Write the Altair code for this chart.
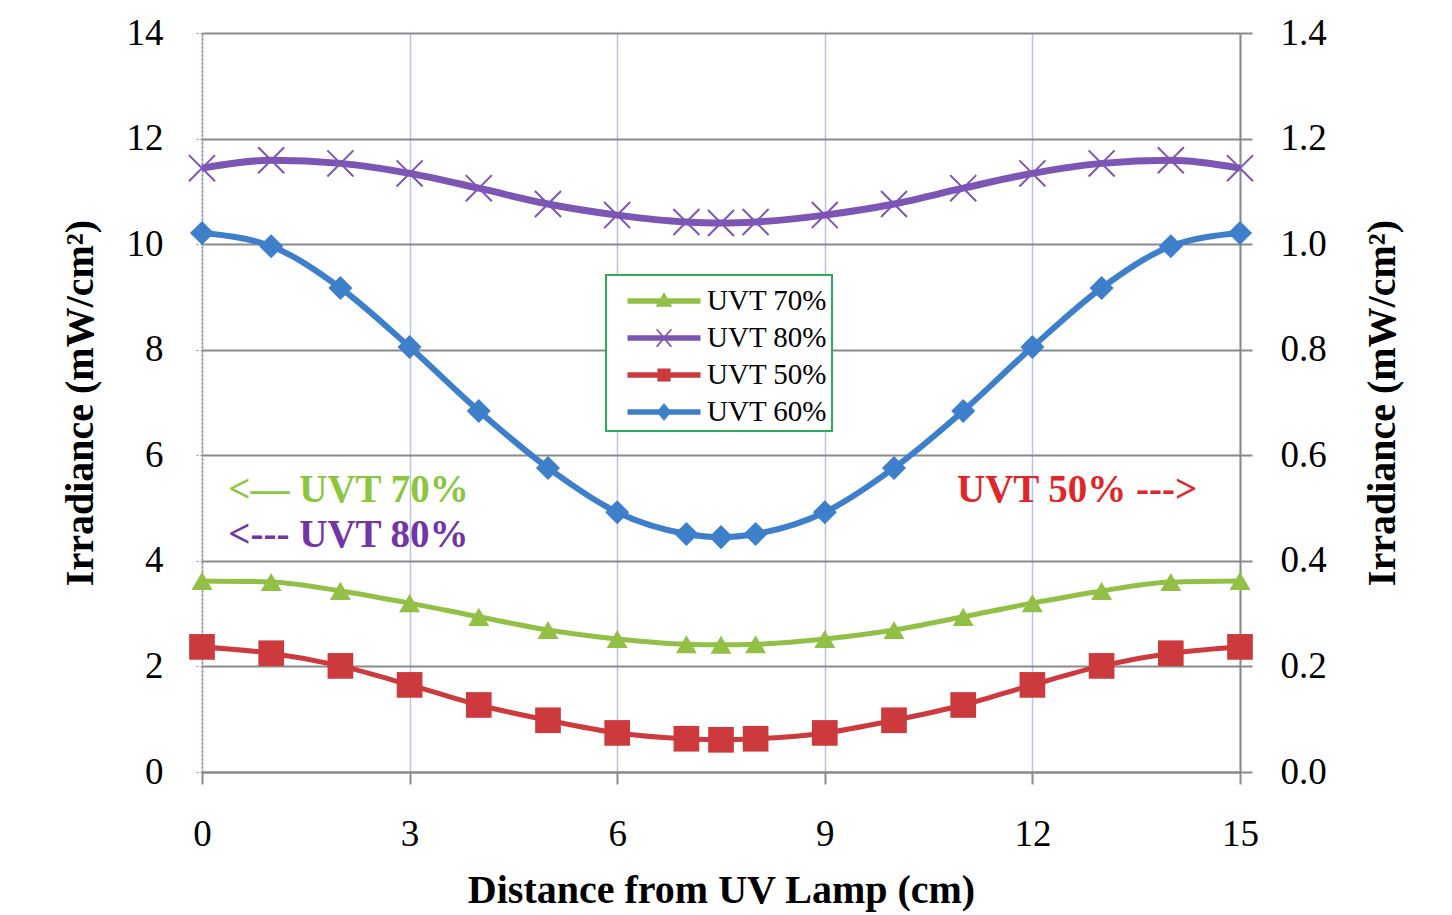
import altair as alt
import pandas as pd

# ---------------- data ----------------
x_cm = [0, 1, 2, 3, 4, 5, 6, 7, 7.5, 8, 9, 10, 11, 12, 13, 14, 15]
# left axis (mW/cm2)
uvt70 = [3.62, 3.60, 3.43, 3.20, 2.94, 2.69, 2.52, 2.42, 2.41, 2.42, 2.52, 2.69, 2.94, 3.20, 3.43, 3.60, 3.62]
uvt80 = [11.44, 11.59, 11.53, 11.34, 11.06, 10.76, 10.55, 10.42, 10.40, 10.42, 10.55, 10.76, 11.06, 11.34, 11.53, 11.59, 11.44]
# right axis (mW/cm2)
uvt50 = [0.237, 0.225, 0.201, 0.165, 0.127, 0.098, 0.074, 0.063, 0.061, 0.063, 0.074, 0.098, 0.127, 0.165, 0.201, 0.225, 0.237]
uvt60 = [1.021, 0.996, 0.917, 0.805, 0.684, 0.576, 0.492, 0.451, 0.445, 0.451, 0.492, 0.576, 0.684, 0.805, 0.917, 0.996, 1.021]

series_names = ["UVT 70%", "UVT 80%", "UVT 50%", "UVT 60%"]
series_colors = ["#92C047", "#7D55B4", "#CD3A3E", "#3E7FCB"]

x_ticks = [0, 3, 6, 9, 12, 15]
left_ticks = [0, 2, 4, 6, 8, 10, 12, 14]
right_ticks = [0.0, 0.2, 0.4, 0.6, 0.8, 1.0, 1.2, 1.4]

# annotations (left-axis ones and right-axis one)
ann_left_text = ["<\u2014 UVT 70%", "<--- UVT 80%"]
ann_left_x = [0.38, 0.38]
ann_left_y = [5.34, 4.49]
ann_left_color = ["#8CC63E", "#7334A4"]
ann_right_text = ["UVT 50% --->"]
ann_right_x = [10.91]
ann_right_y = [0.534]
ann_right_color = ["#E0262B"]

# legend symbols: line + marker as custom paths
LINE = "M-1.66,-0.12H1.66V0.12H-1.66Z "
legend_paths = [
    LINE + "M0,-0.4L0.38,0.26L-0.38,0.26Z",
    LINE + "M-0.38,-0.4L-0.28,-0.4L0.38,0.4L0.28,0.4Z M0.28,-0.4L0.38,-0.4L-0.28,0.4L-0.38,0.4Z",
    LINE + "M-0.3,-0.3H0.3V0.3H-0.3Z",
    LINE + "M0,-0.4L0.34,0L0,0.4L-0.34,0Z",
]

SERIF = "Liberation Serif"
GRAY = "#8a8a8a"
BLUEGRID = "#b7c4e6"

def frame(name, values):
    return pd.DataFrame({"x": x_cm, "value": values, "series": name})

df70 = frame("UVT 70%", uvt70)
df80 = frame("UVT 80%", uvt80)
df50 = frame("UVT 50%", uvt50)
df60 = frame("UVT 60%", uvt60)

x_enc = alt.X(
    "x:Q",
    scale=alt.Scale(domain=[0, 15], nice=False, zero=False),
    axis=alt.Axis(
        values=x_ticks,
        title="Distance from UV Lamp (cm)",
        grid=True,
        gridColor=BLUEGRID,
        gridWidth=1.5,
        domainColor=GRAY,
        domainWidth=2,
        tickColor=GRAY,
        tickWidth=2,
        tickSize=12,
        labelPadding=32,
        labelFlush=False,
        titlePadding=18,
    ),
)

y_left = alt.Y(
    "value:Q",
    scale=alt.Scale(domain=[0, 14], nice=False),
    axis=alt.Axis(
        orient="left",
        values=left_ticks,
        title="Irradiance (mW/cm\u00b2)",
        grid=True,
        gridColor=GRAY,
        gridWidth=2,
        domainColor=GRAY,
        domainWidth=1.5,
        domainDash=[2, 2],
        tickColor=GRAY,
        tickDash=[2, 2],
        tickSize=8,
        labelPadding=31,
        titlePadding=26,
    ),
)

y_right = alt.Y(
    "value:Q",
    scale=alt.Scale(domain=[0, 1.4], nice=False),
    axis=alt.Axis(
        orient="right",
        values=right_ticks,
        format=".1f",
        title="Irradiance (mW/cm\u00b2)",
        titleAngle=270,
        grid=False,
        domainColor=GRAY,
        domainWidth=2,
        tickColor=GRAY,
        tickWidth=2,
        tickSize=12,
        labelPadding=28,
        titlePadding=76,
    ),
)

def series_layers(df, y_enc, color, width, shape, size, filled=True, stroke_w=0):
    base = alt.Chart(df)
    line = base.mark_line(interpolate="monotone", color=color, strokeWidth=width).encode(x=x_enc, y=y_enc)
    if filled:
        pts = base.mark_point(shape=shape, filled=True, size=size, color=color, opacity=1).encode(x=x_enc, y=y_enc)
    else:
        pts = base.mark_point(shape=shape, filled=False, size=size, color=color, opacity=1,
                              strokeWidth=stroke_w).encode(x=x_enc, y=y_enc)
    return [line, pts]

left_layers = []
left_layers += series_layers(df70, y_left, series_colors[0], 5, "triangle-up", 440)
left_layers += series_layers(df80, y_left, series_colors[1], 7, "M-1,-1L1,1M-1,1L1,-1", 680, filled=False, stroke_w=2)

ann_l = pd.DataFrame({"x": ann_left_x, "value": ann_left_y, "text": ann_left_text, "c": ann_left_color})
left_layers.append(
    alt.Chart(ann_l).mark_text(align="left", baseline="middle", font=SERIF, fontSize=39, fontWeight="bold")
    .encode(x=x_enc, y=y_left, text="text:N", color=alt.Color("c:N", scale=None))
)
left = alt.layer(*left_layers)

right_layers = []
right_layers += series_layers(df50, y_right, series_colors[2], 5, "square", 660)
right_layers += series_layers(df60, y_right, series_colors[3], 6, "diamond", 580)
ann_r = pd.DataFrame({"x": ann_right_x, "value": ann_right_y, "text": ann_right_text, "c": ann_right_color})
right_layers.append(
    alt.Chart(ann_r).mark_text(align="left", baseline="middle", font=SERIF, fontSize=39, fontWeight="bold")
    .encode(x=x_enc, y=y_right, text="text:N", color=alt.Color("c:N", scale=None))
)
right = alt.layer(*right_layers)

legend_df = pd.DataFrame({"series": series_names})
legend_layer = alt.Chart(legend_df).mark_point(filled=True, opacity=1).encode(
    color=alt.Color(
        "series:N",
        scale=alt.Scale(domain=series_names, range=series_colors),
        legend=alt.Legend(
            title=None,
            orient="none",
            legendX=404,
            legendY=242,
            symbolSize=1936,
            symbolStrokeWidth=0,
            symbolOpacity=1,
            symbolOffset=32,
            labelFont=SERIF,
            labelFontSize=29,
            labelColor="black",
            labelOffset=21,
            rowPadding=0,
            padding=4,
            strokeColor="#2EAB5A",
            fillColor="white",
        ),
    ),
    shape=alt.Shape(
        "series:N",
        scale=alt.Scale(domain=series_names, range=legend_paths),
        legend=alt.Legend(title=None, orient="none", legendX=404, legendY=242),
    ),
).transform_filter("false")

chart = (
    alt.layer(left, right, legend_layer)
    .resolve_scale(y="independent")
    .properties(
        width=1038,
        height=739,
        padding={"left": 194, "top": 25, "right": 200, "bottom": 142},
        autosize=alt.AutoSizeParams(type="none"),
        background="white",
    )
    .configure_view(strokeWidth=0)
    .configure_axis(
        labelFont=SERIF,
        labelFontSize=37,
        labelColor="black",
        titleFont=SERIF,
        titleFontSize=40,
        titleFontWeight="bold",
        titleColor="black",
    )
    .configure_legend(strokeWidth=2)
)

chart.save("out.html", embed_options={"renderer": "svg", "actions": False})
